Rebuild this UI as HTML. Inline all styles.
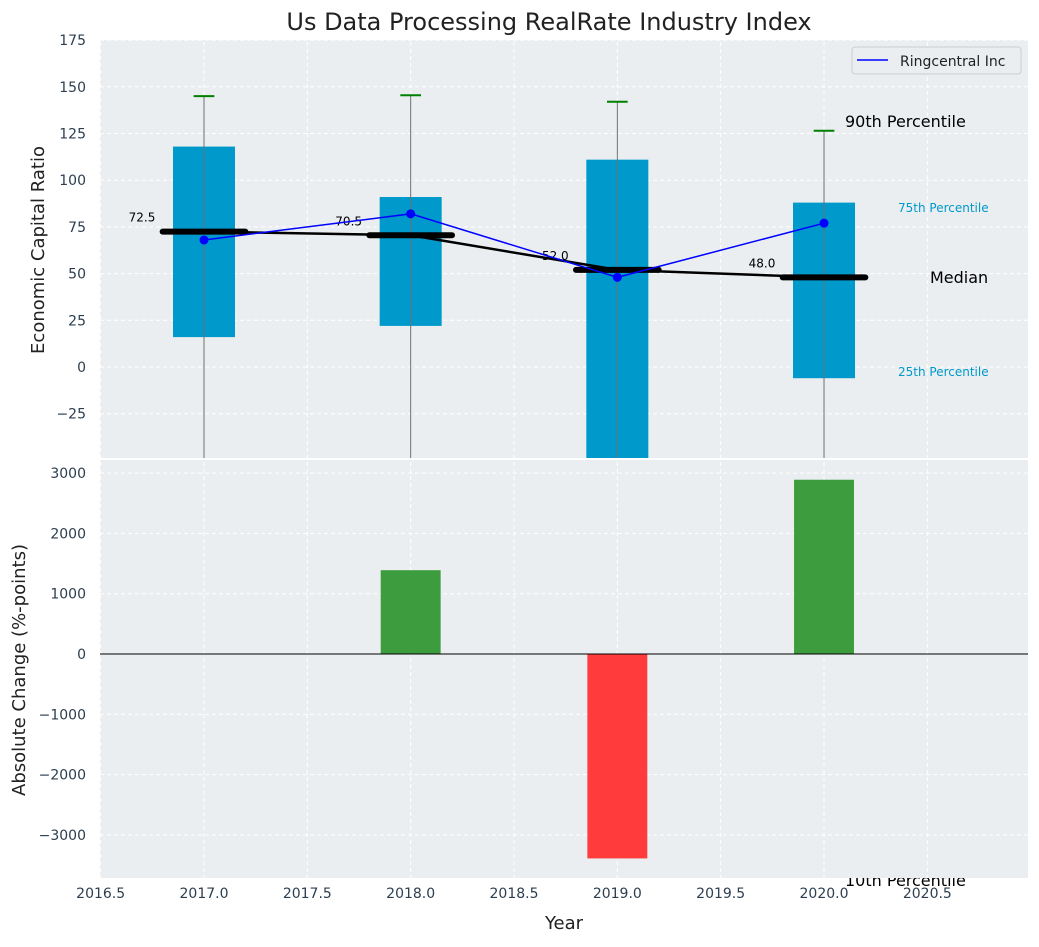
<!DOCTYPE html>
<html><head><meta charset="utf-8"><style>
body{margin:0;background:#fff;font-family:"Liberation Sans","DejaVu Sans",sans-serif}
svg text{font-family:"DejaVu Sans","Liberation Sans",sans-serif}
</style></head><body>
<svg id="c" width="1039" height="942" xmlns="http://www.w3.org/2000/svg"></svg>
<script>
const years=[2017,2018,2019,2020];
const p90=[145,145.5,142,126.5];
const p75=[118,91,111,88];
const p25=[16,22,-60,-6];
const p10=[-200,-200,-200,-200];
const medians=[72.5,70.5,52.0,48.0];
const company=[68,82,48,77];
const changes=[null,1390,-3390,2890];
const xTicks=[2016.5,2017,2017.5,2018,2018.5,2019,2019.5,2020,2020.5];
const yTopTicks=[-25,0,25,50,75,100,125,150,175];
const yBotTicks=[-3000,-2000,-1000,0,1000,2000,3000];

const svg=document.getElementById('c');const NS='http://www.w3.org/2000/svg';
function el(t,a,p){const e=document.createElementNS(NS,t);for(const k in a)e.setAttribute(k,a[k]);(p||svg).appendChild(e);return e;}
const L=100,R=1028,T1=40,B1=458,T2=460,B2=878;
const X=v=>204+(v-2017)*206.67;
const Y1=v=>367-v*1.868;
const Y2=v=>654-v*0.0603;
// 10th percentile label behind axes
const t10=el('text',{x:845,y:886,'font-size':16,fill:'#000'});t10.textContent='10th Percentile';

let r=el('rect',{x:L,y:T1,width:R-L,height:B1-T1,fill:'#eaeef0'});

r=el('rect',{x:L,y:T2,width:R-L,height:B2-T2,fill:'#eaeef0'});

const defs=el('defs',{});
const c1=el('clipPath',{id:'c1'},defs);el('rect',{x:L,y:T1,width:R-L,height:B1-T1},c1);
const c2=el('clipPath',{id:'c2'},defs);el('rect',{x:L,y:T2,width:R-L,height:B2-T2},c2);
const g1=el('g',{'clip-path':'url(#c1)'});const g2=el('g',{'clip-path':'url(#c2)'});
xTicks.forEach(v=>{[g1,g2].forEach(g=>el('line',{x1:X(v),x2:X(v),y1:0,y2:942,stroke:'#fff','stroke-dasharray':'4,3','stroke-width':1},g));
 const t=el('text',{x:X(v),y:B2+20,'text-anchor':'middle','font-size':14,fill:'#2c3e50'});t.textContent=v.toFixed(1);
 });
yTopTicks.forEach(v=>{el('line',{x1:L,x2:R,y1:Y1(v),y2:Y1(v),stroke:'#fff','stroke-dasharray':'4,3'},g1);
 const t=el('text',{x:L-14,y:Y1(v)+5,'text-anchor':'end','font-size':14,fill:'#2c3e50'});t.textContent=v<0?'\u2212'+(-v):v;
 });
yBotTicks.forEach(v=>{el('line',{x1:L,x2:R,y1:Y2(v),y2:Y2(v),stroke:'#fff','stroke-dasharray':'4,3'},g2);
 const t=el('text',{x:L-14,y:Y2(v)+5,'text-anchor':'end','font-size':14,fill:'#2c3e50'});t.textContent=v<0?'\u2212'+(-v):v;
 });
years.forEach((y,i)=>{
 const b=el('rect',{x:X(y-0.15),y:Y1(p75[i]),width:X(y+0.15)-X(y-0.15),height:Y1(p25[i])-Y1(p75[i]),fill:'#0099cc'},g1);
 
 el('line',{x1:X(y),x2:X(y),y1:Y1(p90[i]),y2:Y1(p10[i]),stroke:'#707070','stroke-width':1},g1);
 el('line',{x1:X(y-0.05),x2:X(y+0.05),y1:Y1(p90[i]),y2:Y1(p90[i]),stroke:'green','stroke-width':2},g1);
 el('line',{x1:X(y-0.2),x2:X(y+0.2),y1:Y1(medians[i]),y2:Y1(medians[i]),stroke:'#000','stroke-width':6,'stroke-linecap':'round'},g1);
 const t=el('text',{x:X(y-0.3),y:Y1(medians[i])-10,'text-anchor':'middle','font-size':12,fill:'#000'},g1);t.textContent=medians[i].toFixed(1);
 
});
el('polyline',{points:years.map((y,i)=>X(y)+','+Y1(medians[i])).join(' '),fill:'none',stroke:'#000','stroke-width':2.5},g1);
el('polyline',{points:years.map((y,i)=>X(y)+','+Y1(company[i])).join(' '),fill:'none',stroke:'blue','stroke-width':1.5},g1);
years.forEach((y,i)=>{const c=el('circle',{cx:X(y),cy:Y1(company[i]),r:4.5,fill:'blue'},g1);
 });
[['90th Percentile',845,127,16,'#000'],['75th Percentile',898,212,12,'#0099cc'],['Median',930,283,16,'#000'],['25th Percentile',898,376,12,'#0099cc']].forEach(a=>{
 const t=el('text',{x:a[1],y:a[2],'font-size':a[3],fill:a[4]});t.textContent=a[0];
 });
const lg=el('g',{});
el('rect',{x:852,y:47,width:169,height:27,rx:3,fill:'#eaeef0',stroke:'#ccc'},lg);
el('line',{x1:857,x2:888,y1:60,y2:60,stroke:'blue','stroke-width':1.5},lg);
const lt=el('text',{x:900,y:66,'font-size':14,fill:'#222'},lg);lt.textContent='Ringcentral Inc';
years.forEach((y,i)=>{if(changes[i]==null)return;const v=changes[i];
 const b=el('rect',{x:X(y-0.145),y:Y2(Math.max(v,0)),width:X(y+0.145)-X(y-0.145),height:Math.abs(Y2(v)-Y2(0)),fill:v>=0?'#3d9c3d':'#ff3b3b'},g2);
 });
el('line',{x1:L,x2:R,y1:Y2(0),y2:Y2(0),stroke:'#000','stroke-width':1},g2);
let t=el('text',{x:549,y:30,'text-anchor':'middle','font-size':24,fill:'#222'});t.textContent='Us Data Processing RealRate Industry Index';

t=el('text',{x:44,y:250,'text-anchor':'middle','font-size':18,fill:'#222',transform:'rotate(-90 44 250)'});t.textContent='Economic Capital Ratio';

t=el('text',{x:25,y:670,'text-anchor':'middle','font-size':18,fill:'#222',transform:'rotate(-90 25 670)'});t.textContent='Absolute Change (%-points)';

t=el('text',{x:564,y:929,'text-anchor':'middle','font-size':18,fill:'#222'});t.textContent='Year';

</script>
</body></html>
